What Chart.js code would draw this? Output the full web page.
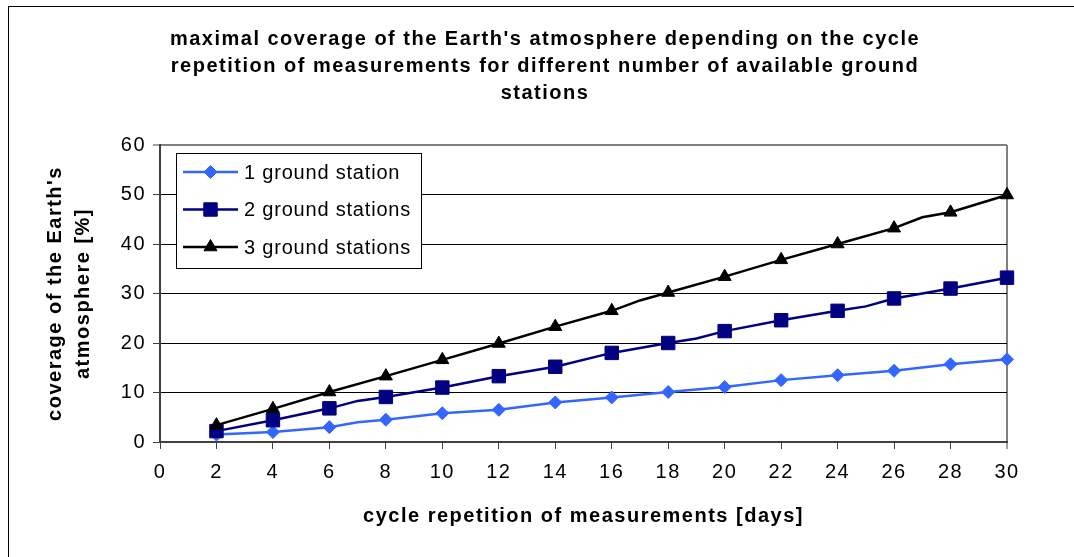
<!DOCTYPE html>
<html>
<head>
<meta charset="utf-8">
<script src="https://cdn.jsdelivr.net/npm/chart.js@4.4.1/dist/chart.umd.min.js"></script>
<style>
  html, body { margin: 0; padding: 0; background: #ffffff; overflow: hidden; }
  #wrap { position: relative; width: 1074px; height: 557px; }
  #frame { position: absolute; left: 8px; top: 6px; width: 1200px; height: 700px;
           border-left: 1px solid #000; border-top: 1px solid #000; }
  #c { position: absolute; left: 0; top: 0; }
</style>
</head>
<body>
<div id="wrap">
  <div id="frame"></div>
  <canvas id="c" width="1074" height="557"></canvas>
</div>
<script>
// ---- data ----
const titleLines = [
  "maximal coverage of the Earth's atmosphere depending on the cycle",
  "repetition of measurements for different number of available ground",
  "stations"
];
const xAxisTitle = "cycle repetition of measurements [days]";
const yAxisTitle = ["coverage of the Earth's", "atmosphere [%]"];
const seriesNames = ["1 ground station", "2 ground stations", "3 ground stations"];

const days = [2, 4, 6, 8, 10, 12, 14, 16, 18, 20, 22, 24, 26, 28, 30];
const oneStation    = [1.5, 2.0, 3.0, 4.5, 5.8, 6.5, 8.0, 9.0, 10.1, 11.1, 12.5, 13.5, 14.4, 15.7, 16.7];
const twoStations   = [2.2, 4.4, 6.8, 9.1, 11.0, 13.3, 15.2, 18.0, 20.0, 22.4, 24.6, 26.5, 29.0, 31.0, 33.2];
const threeStations = [3.4, 6.7, 10.1, 13.3, 16.6, 19.9, 23.3, 26.5, 30.2, 33.4, 36.8, 40.0, 43.2, 46.4, 49.9];

// unmarked points where the drawn lines bend between markers
const oneStationBendDays = [7];
const oneStationBendValues = [4.0];
const twoStationsBendDays = [7, 19, 25];
const twoStationsBendValues = [8.3, 20.9, 27.4];
const threeStationsBendDays = [17, 27];
const threeStationsBendValues = [28.6, 45.4];

const xTicks = [0, 2, 4, 6, 8, 10, 12, 14, 16, 18, 20, 22, 24, 26, 28, 30];
const yTicks = [0, 10, 20, 30, 40, 50, 60];

// ---- build library structures ----
function buildPoints(xs, ys, bx, by) {
  const pts = xs.map((x, i) => ({ x: x, y: ys[i], marker: true }));
  bx.forEach((x, i) => pts.push({ x: x, y: by[i], marker: false }));
  pts.sort((a, b) => a.x - b.x);
  return pts;
}

const FONT = "'Liberation Sans', Arial, Helvetica, sans-serif";

const styles = [
  { color: '#3366FF', pointStyle: 'rectRot', radius: 6.5 },
  { color: '#000080', pointStyle: 'rect', radius: 9.5 },
  { color: '#000000', pointStyle: 'triangle', radius: 7.5 }
];

const pointSets = [
  buildPoints(days, oneStation, oneStationBendDays, oneStationBendValues),
  buildPoints(days, twoStations, twoStationsBendDays, twoStationsBendValues),
  buildPoints(days, threeStations, threeStationsBendDays, threeStationsBendValues)
];

const datasets = pointSets.map((pts, i) => ({
  label: seriesNames[i],
  data: pts,
  borderColor: styles[i].color,
  backgroundColor: styles[i].color,
  borderWidth: 2.5,
  pointStyle: styles[i].pointStyle,
  pointRadius: ctx => (ctx.raw && ctx.raw.marker) ? styles[i].radius : 0,
  pointHoverRadius: ctx => (ctx.raw && ctx.raw.marker) ? styles[i].radius : 0,
  pointBorderWidth: 1,
  pointBorderColor: styles[i].color,
  pointBackgroundColor: styles[i].color,
  tension: 0,
  fill: false,
  clip: false,
  order: 2 - i
}));

// wider letter spacing for the chart's texts, as in the reference rendering
const spacing = {
  id: 'spacing',
  beforeDraw(chart) {
    if ('letterSpacing' in chart.ctx) chart.ctx.letterSpacing = '1.5px';
  }
};

// legend box drawn inside the plot area
const boxLegend = {
  id: 'boxLegend',
  afterDatasetsDraw(chart) {
    const ctx = chart.ctx;
    const ca = chart.chartArea;
    const left = ca.left + 16, top = ca.top + 8, w = 245, h = 115;
    ctx.save();
    if ('letterSpacing' in ctx) ctx.letterSpacing = '0.8px';
    ctx.fillStyle = '#ffffff';
    ctx.fillRect(left, top, w, h);
    ctx.strokeStyle = '#000000';
    ctx.lineWidth = 1;
    ctx.strokeRect(left + 0.5, top + 0.5, w, h);
    chart.data.datasets.forEach((ds, i) => {
      const y = top + 19 + i * 37.5;
      ctx.strokeStyle = ds.borderColor;
      ctx.lineWidth = ds.borderWidth;
      ctx.beginPath();
      ctx.moveTo(left + 7, y);
      ctx.lineTo(left + 62, y);
      ctx.stroke();
      ctx.fillStyle = ds.pointBackgroundColor;
      ctx.strokeStyle = ds.pointBorderColor;
      ctx.lineWidth = 1;
      Chart.helpers.drawPoint(ctx, {
        pointStyle: ds.pointStyle, radius: styles[i].radius, rotation: 0, borderWidth: 1
      }, left + 34.5, y);
      ctx.fillStyle = '#000000';
      ctx.font = '20px ' + FONT;
      ctx.textBaseline = 'middle';
      ctx.textAlign = 'left';
      ctx.fillText(ds.label, left + 68, y + 1);
    });
    ctx.restore();
  }
};

new Chart(document.getElementById('c'), {
  type: 'line',
  data: { datasets: datasets },
  options: {
    responsive: false,
    animation: false,
    devicePixelRatio: 1,
    layout: { padding: { left: 16, right: 0, top: 0, bottom: 0 } },
    plugins: {
      legend: { display: false },
      tooltip: { enabled: false },
      title: {
        display: true,
        text: titleLines,
        color: '#000000',
        font: { family: FONT, size: 20, weight: 'bold', lineHeight: 1.35 },
        padding: { top: 25.5, bottom: 38.5 }
      }
    },
    scales: {
      x: {
        type: 'linear',
        min: 0, max: 30,
        afterBuildTicks: s => { s.ticks = xTicks.map(v => ({ value: v })); },
        afterFit: s => { s.height = 115; },
        ticks: { color: '#000000', font: { family: FONT, size: 20 }, padding: 11, maxRotation: 0, autoSkip: false },
        grid: {
          drawOnChartArea: true,
          color: c => (c.tick && c.tick.value === 30) ? '#808080' : 'rgba(0,0,0,0)',
          lineWidth: c => (c.tick && c.tick.value === 30) ? 2 : 1,
          tickColor: '#404040', tickLength: 7, tickWidth: 1
        },
        border: { display: true, color: '#404040', width: 2 },
        title: {
          display: true, text: xAxisTitle, color: '#000000',
          font: { family: FONT, size: 20, weight: 'bold', lineHeight: 1.2 },
          padding: { top: 0, bottom: 29 }
        }
      },
      y: {
        type: 'linear',
        position: 'left',
        min: 0, max: 60,
        afterBuildTicks: s => { s.ticks = yTicks.map(v => ({ value: v })); },
        afterFit: s => { s.width = 144; },
        ticks: { color: '#000000', font: { family: FONT, size: 20 }, padding: 7 },
        grid: {
          color: c => {
            const v = c.tick ? c.tick.value : null;
            if (v === 0) return 'rgba(0,0,0,0)';
            if (v === 60) return '#808080';
            return '#000000';
          },
          lineWidth: c => (c.tick && c.tick.value === 60) ? 2 : 1,
          tickColor: '#404040', tickLength: 7, tickWidth: 1
        },
        border: { display: true, color: '#404040', width: 2 },
        title: {
          display: true, text: yAxisTitle, color: '#000000',
          font: { family: FONT, size: 20, weight: 'bold', lineHeight: 1.4 },
          padding: { top: 25, bottom: 0 }
        }
      },
      yRight: {
        type: 'linear',
        position: 'right',
        display: true,
        afterFit: s => { s.width = 67; },
        ticks: { display: false },
        grid: { display: false, drawTicks: false },
        border: { display: false }
      }
    }
  },
  plugins: [spacing, boxLegend]
});
</script>
</body>
</html>
